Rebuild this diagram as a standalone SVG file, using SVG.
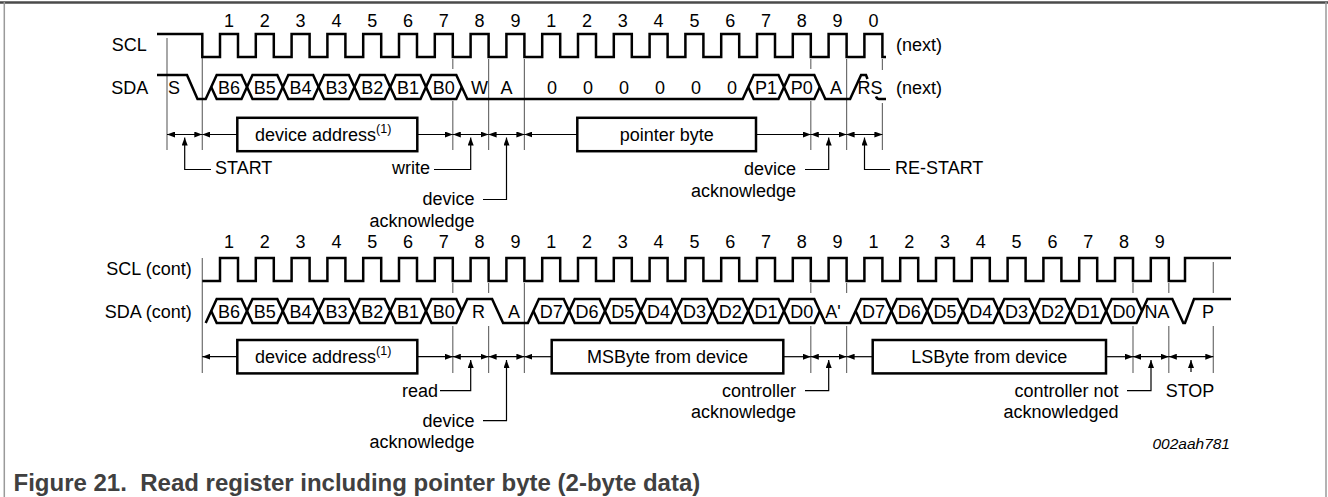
<svg xmlns="http://www.w3.org/2000/svg" width="1328" height="497" viewBox="0 0 1328 497">
<defs>
<style>
text{font-family:"Liberation Sans",Arial,sans-serif;font-size:18px;fill:#000}
.m{text-anchor:middle}
.e{text-anchor:end}
.sig{fill:none;stroke:#000;stroke-width:2.5;stroke-linejoin:miter}
.g{stroke:#6e6e6e;stroke-width:1.2;fill:none}
.ar{stroke:#000;stroke-width:1.2;fill:none}
.box{fill:#fff;stroke:#000;stroke-width:2.5}
.cap{font-weight:bold;font-size:24px;fill:#404040}
.id{font-style:italic;font-size:15.5px}
.sup{font-size:12.5px}
</style>
<marker id="ah" viewBox="0 0 8 6" markerWidth="8" markerHeight="6" refX="8" refY="3" orient="auto-start-reverse" markerUnits="userSpaceOnUse"><path d="M0,0L8,3L0,6z" fill="#000"/></marker>
</defs>
<rect width="1328" height="497" fill="#fff"/>
<g id="frame">
<path d="M0,2.5H1328" stroke="#4a4a4a" stroke-width="2.5"/>
<path d="M4.3,2V497M1326,2V497" stroke="#9a9a9a" stroke-width="1.5"/>
</g>
<g id="signal-labels">
<text class="e" x="146.7" y="51">SCL</text>
<text class="e" x="148.3" y="94">SDA</text>
<text x="896" y="51">(next)</text>
<text x="896" y="94">(next)</text>
<text class="e" x="191.7" y="275">SCL (cont)</text>
<text class="e" x="191.7" y="317.5">SDA (cont)</text>
</g>
<g id="clock-numbers-1" class="m">
<text class="m" x="229" y="26.7">1</text><text class="m" x="264.8" y="26.7">2</text><text class="m" x="300.6" y="26.7">3</text><text class="m" x="336.4" y="26.7">4</text><text class="m" x="372.2" y="26.7">5</text><text class="m" x="408" y="26.7">6</text><text class="m" x="443.8" y="26.7">7</text><text class="m" x="479.6" y="26.7">8</text><text class="m" x="515.4" y="26.7">9</text><text class="m" x="551.2" y="26.7">1</text><text class="m" x="587" y="26.7">2</text><text class="m" x="622.8" y="26.7">3</text><text class="m" x="658.6" y="26.7">4</text><text class="m" x="694.4" y="26.7">5</text><text class="m" x="730.2" y="26.7">6</text><text class="m" x="766" y="26.7">7</text><text class="m" x="801.8" y="26.7">8</text><text class="m" x="837.6" y="26.7">9</text><text class="m" x="873.4" y="26.7">0</text>
</g>
<g id="clock-numbers-2">
<text class="m" x="229" y="248.4">1</text><text class="m" x="264.8" y="248.4">2</text><text class="m" x="300.6" y="248.4">3</text><text class="m" x="336.4" y="248.4">4</text><text class="m" x="372.2" y="248.4">5</text><text class="m" x="408" y="248.4">6</text><text class="m" x="443.8" y="248.4">7</text><text class="m" x="479.6" y="248.4">8</text><text class="m" x="515.4" y="248.4">9</text><text class="m" x="551.2" y="248.4">1</text><text class="m" x="587" y="248.4">2</text><text class="m" x="622.8" y="248.4">3</text><text class="m" x="658.6" y="248.4">4</text><text class="m" x="694.4" y="248.4">5</text><text class="m" x="730.2" y="248.4">6</text><text class="m" x="766" y="248.4">7</text><text class="m" x="801.8" y="248.4">8</text><text class="m" x="837.6" y="248.4">9</text><text class="m" x="873.4" y="248.4">1</text><text class="m" x="909.2" y="248.4">2</text><text class="m" x="945" y="248.4">3</text><text class="m" x="980.8" y="248.4">4</text><text class="m" x="1016.6" y="248.4">5</text><text class="m" x="1052.4" y="248.4">6</text><text class="m" x="1088.2" y="248.4">7</text><text class="m" x="1124" y="248.4">8</text><text class="m" x="1159.8" y="248.4">9</text>
</g>
<g id="markers">
<path class="g" d="M167,38V150M202.3,57V150M452.8,59V69M452.8,101V150M488.6,59V150M524.4,59V150M810.8,59V69M810.8,101V150M846.6,59V150M882.4,59V70M882.4,103V150"/>
<path class="g" d="M202.3,258V373M452.8,283V293M452.8,326V373M488.6,283V293M488.6,326V373M524.4,283V373M810.8,283V293M810.8,326V373M846.6,283V293M846.6,326V373M1133,283V293M1133,326V373M1168.8,283V293M1168.8,326V373M1213.3,262V293M1213.3,326V373"/>
</g>
<g id="scl1">
<path class="sig" d="M157,34H202.3V57H220V34H238V57H255.8V34H273.8V57H291.6V34H309.6V57H327.4V34H345.4V57H363.2V34H381.2V57H399V34H417V57H434.8V34H452.8V57H470.6V34H488.6V57H506.4V34H524.4V57H542.2V34H560.2V57H578V34H596V57H613.8V34H631.8V57H649.6V34H667.6V57H685.4V34H703.4V57H721.2V34H739.2V57H757V34H775V57H792.8V34H810.8V57H828.6V34H846.6V57H864.4V34H882.4V57H886"/>
</g>
<g id="sda1">
<path class="sig" d="M157,75H187L197.5,99H205.7L216.7,75H241.5L252.5,99H277.3L288.3,75H313.1L324.1,99H348.9L359.9,75H384.7L395.7,99H420.5L431.5,75H456.3L467.3,99H742.7L753.7,75H778.5L789.5,99H814.3L819.8,87"/>
<path class="sig" d="M211.2,87L216.7,99H241.5L252.5,75H277.3L288.3,99H313.1L324.1,75H348.9L359.9,99H384.7L395.7,75H420.5L431.5,99H456.3L461.8,87"/>
<path class="sig" d="M748.2,87L753.7,99H778.5L789.5,75H814.3L825.3,99H850.1L861.1,75H866L867.5,79"/>
<path class="sig" d="M876,96.5Q877,99 879,99H886"/>
<text class="m" x="174" y="93.5">S</text>
<text class="m" x="229" y="93.5">B6</text><text class="m" x="264.8" y="93.5">B5</text><text class="m" x="300.6" y="93.5">B4</text><text class="m" x="336.4" y="93.5">B3</text><text class="m" x="372.2" y="93.5">B2</text><text class="m" x="408" y="93.5">B1</text><text class="m" x="443.8" y="93.5">B0</text>
<text class="m" x="479.5" y="93.5">W</text><text class="m" x="506.5" y="93.5">A</text>
<text class="m" x="552" y="93.5">0</text><text class="m" x="588" y="93.5">0</text><text class="m" x="624" y="93.5">0</text><text class="m" x="660" y="93.5">0</text><text class="m" x="696" y="93.5">0</text><text class="m" x="732" y="93.5">0</text>
<text class="m" x="766" y="93.5">P1</text><text class="m" x="801.8" y="93.5">P0</text><text class="m" x="836" y="93.5">A</text><text class="m" x="870" y="93.5">RS</text>
</g>
<g id="scl2">
<path class="sig" d="M202.3,281H220V258H238V281H255.8V258H273.8V281H291.6V258H309.6V281H327.4V258H345.4V281H363.2V258H381.2V281H399V258H417V281H434.8V258H452.8V281H470.6V258H488.6V281H506.4V258H524.4V281H542.2V258H560.2V281H578V258H596V281H613.8V258H631.8V281H649.6V258H667.6V281H685.4V258H703.4V281H721.2V258H739.2V281H757V258H775V281H792.8V258H810.8V281H828.6V258H846.6V281H864.4V258H882.4V281H900.2V258H918.2V281H936V258H954V281H971.8V258H989.8V281H1007.6V258H1025.6V281H1043.4V258H1061.4V281H1079.2V258H1097.2V281H1115V258H1133V281H1150.8V258H1168.8V281H1185V258H1231"/>
</g>
<g id="sda2">
<path class="sig" d="M205.7,323L216.7,299H241.5L252.5,323H277.3L288.3,299H313.1L324.1,323H348.9L359.9,299H384.7L395.7,323H420.5L431.5,299H456.3L461.8,311"/>
<path class="sig" d="M211.2,311L216.7,323H241.5L252.5,299H277.3L288.3,323H313.1L324.1,299H348.9L359.9,323H384.7L395.7,299H420.5L431.5,323H456.3L467.3,299H492.1L503.1,323H527.9L538.9,299H563.7L574.7,323H599.5L610.5,299H635.3L646.3,323H671.1L682.1,299H706.9L717.9,323H742.7L753.7,299H778.5L789.5,323H814.3L819.8,311"/>
<path class="sig" d="M533.4,311L538.9,323H563.7L574.7,299H599.5L610.5,323H635.3L646.3,299H671.1L682.1,323H706.9L717.9,299H742.7L753.7,323H778.5L789.5,299H814.3L825.3,323H850.1L861.1,299H885.9L896.9,323H921.7L932.7,299H957.5L968.5,323H993.3L1004.3,299H1029.1L1040.1,323H1064.9L1075.9,299H1100.7L1111.7,323H1136.5L1147.5,299H1172.3L1183.3,323H1185L1194,299H1231"/>
<path class="sig" d="M855.6,311L861.1,323H885.9L896.9,299H921.7L932.7,323H957.5L968.5,299H993.3L1004.3,323H1029.1L1040.1,299H1064.9L1075.9,323H1100.7L1111.7,299H1136.5L1142,311"/>
<text class="m" x="229" y="317.5">B6</text><text class="m" x="264.8" y="317.5">B5</text><text class="m" x="300.6" y="317.5">B4</text><text class="m" x="336.4" y="317.5">B3</text><text class="m" x="372.2" y="317.5">B2</text><text class="m" x="408" y="317.5">B1</text><text class="m" x="443.8" y="317.5">B0</text>
<text class="m" x="478.5" y="317.5">R</text><text class="m" x="514" y="317.5">A</text>
<text class="m" x="551.2" y="317.5">D7</text><text class="m" x="587" y="317.5">D6</text><text class="m" x="622.8" y="317.5">D5</text><text class="m" x="658.6" y="317.5">D4</text><text class="m" x="694.4" y="317.5">D3</text><text class="m" x="730.2" y="317.5">D2</text><text class="m" x="766" y="317.5">D1</text><text class="m" x="801.8" y="317.5">D0</text>
<text class="m" x="833" y="317.5">A'</text>
<text class="m" x="873.4" y="317.5">D7</text><text class="m" x="909.2" y="317.5">D6</text><text class="m" x="945" y="317.5">D5</text><text class="m" x="980.8" y="317.5">D4</text><text class="m" x="1016.6" y="317.5">D3</text><text class="m" x="1052.4" y="317.5">D2</text><text class="m" x="1088.2" y="317.5">D1</text><text class="m" x="1124" y="317.5">D0</text>
<text class="m" x="1157" y="317.5">NA</text><text class="m" x="1208" y="317.5">P</text>
</g>
<g id="connectors">
<path class="ar" d="M167,134.5H202.3" marker-start="url(#ah)" marker-end="url(#ah)"/>
<path class="ar" d="M202.3,134.5H237.3" marker-start="url(#ah)"/>
<path class="ar" d="M417.3,134.5H452.8" marker-end="url(#ah)"/>
<path class="ar" d="M452.8,134.5H488.6" marker-start="url(#ah)" marker-end="url(#ah)"/>
<path class="ar" d="M488.6,134.5H524.4" marker-start="url(#ah)" marker-end="url(#ah)"/>
<path class="ar" d="M524.4,134.5H577.3" marker-start="url(#ah)"/>
<path class="ar" d="M756,134.5H810.8" marker-end="url(#ah)"/>
<path class="ar" d="M810.8,134.5H846.6" marker-start="url(#ah)" marker-end="url(#ah)"/>
<path class="ar" d="M846.6,134.5H882.4" marker-start="url(#ah)" marker-end="url(#ah)"/>
<path class="ar" d="M211,169.5H184.7V137.5" marker-end="url(#ah)"/>
<path class="ar" d="M434,169.5H470.7V137.5" marker-end="url(#ah)"/>
<path class="ar" d="M483,199.5H506.5V137.5" marker-end="url(#ah)"/>
<path class="ar" d="M805,169.5H828.7V137.5" marker-end="url(#ah)"/>
<path class="ar" d="M890,169.5H864.5V137.5" marker-end="url(#ah)"/>
<path class="ar" d="M202.3,356.7H237.3" marker-start="url(#ah)"/>
<path class="ar" d="M417.3,356.7H452.8" marker-end="url(#ah)"/>
<path class="ar" d="M452.8,356.7H488.6" marker-start="url(#ah)" marker-end="url(#ah)"/>
<path class="ar" d="M488.6,356.7H524.4" marker-start="url(#ah)" marker-end="url(#ah)"/>
<path class="ar" d="M524.4,356.7H551.7" marker-start="url(#ah)"/>
<path class="ar" d="M783.3,356.7H810.8" marker-end="url(#ah)"/>
<path class="ar" d="M810.8,356.7H846.6" marker-start="url(#ah)" marker-end="url(#ah)"/>
<path class="ar" d="M846.6,356.7H872.7" marker-start="url(#ah)"/>
<path class="ar" d="M1106,356.7H1133" marker-end="url(#ah)"/>
<path class="ar" d="M1133,356.7H1168.8" marker-start="url(#ah)" marker-end="url(#ah)"/>
<path class="ar" d="M1168.8,356.7H1213.3" marker-start="url(#ah)" marker-end="url(#ah)"/>
<path class="ar" d="M440,390.7H470.7V360" marker-end="url(#ah)"/>
<path class="ar" d="M483,420.7H506.5V360" marker-end="url(#ah)"/>
<path class="ar" d="M805,390.7H828.7V360" marker-end="url(#ah)"/>
<path class="ar" d="M1127,390.7H1151V360" marker-end="url(#ah)"/>
<path class="ar" d="M1191,372V360" marker-end="url(#ah)"/>
</g>
<g id="box-device-address-1">
<rect class="box" x="237.3" y="117.8" width="180" height="33.4"/>
<text x="255" y="141">device address<tspan class="sup" dy="-8">(1)</tspan></text>
</g>
<g id="box-pointer-byte">
<rect class="box" x="577.3" y="117.8" width="178.7" height="33.4"/>
<text class="m" x="666.7" y="141">pointer byte</text>
</g>
<g id="box-device-address-2">
<rect class="box" x="237.3" y="340" width="180" height="33.4"/>
<text x="255" y="363.3">device address<tspan class="sup" dy="-8">(1)</tspan></text>
</g>
<g id="box-msbyte">
<rect class="box" x="551.7" y="340" width="231.6" height="33.4"/>
<text class="m" x="667.5" y="363.3">MSByte from device</text>
</g>
<g id="box-lsbyte">
<rect class="box" x="872.7" y="340" width="233.3" height="33.4"/>
<text class="m" x="989.3" y="363.3">LSByte from device</text>
</g>
<g id="annotations">
<text x="215" y="174">START</text>
<text class="e" x="430" y="174">write</text>
<text class="e" x="474.5" y="205">device</text>
<text class="e" x="474.5" y="226.5">acknowledge</text>
<text class="e" x="796" y="175">device</text>
<text class="e" x="796" y="196.5">acknowledge</text>
<text x="895" y="174">RE-START</text>
<text class="e" x="438" y="397">read</text>
<text class="e" x="474.5" y="426.5">device</text>
<text class="e" x="474.5" y="447.5">acknowledge</text>
<text class="e" x="796" y="396.5">controller</text>
<text class="e" x="796" y="417.5">acknowledge</text>
<text class="e" x="1118.5" y="396.5">controller not</text>
<text class="e" x="1118.5" y="417.5">acknowledged</text>
<text class="m" x="1190" y="397">STOP</text>
<text class="e id" x="1230" y="449">002aah781</text>
</g>
<g id="caption">
<text class="cap" x="13.5" y="491" xml:space="preserve">Figure 21.  Read register including pointer byte (2-byte data)</text>
</g>
</svg>
